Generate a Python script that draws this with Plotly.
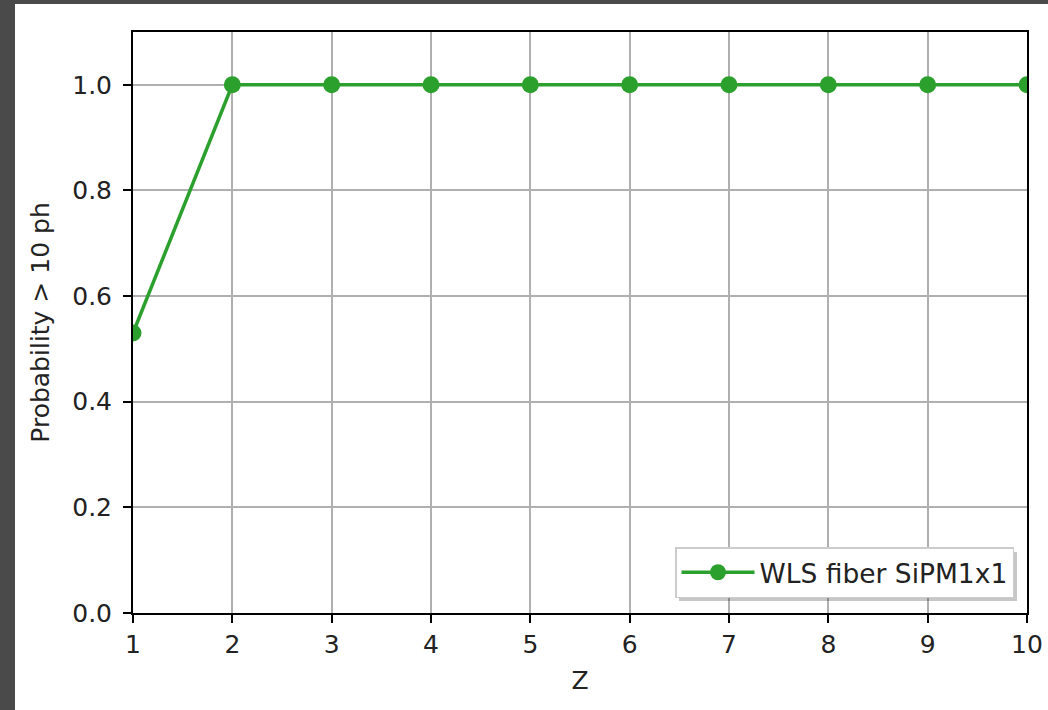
import plotly.graph_objects as go

z_values = [1, 2, 3, 4, 5, 6, 7, 8, 9, 10]
probability = [0.53, 1.0, 1.0, 1.0, 1.0, 1.0, 1.0, 1.0, 1.0, 1.0]
series_name = "WLS fiber SiPM1x1"
x_label = "Z"
y_label = "Probability > 10 ph"
y_ticks = [0.0, 0.2, 0.4, 0.6, 0.8, 1.0]

GREEN = "#2ca02c"
FONT = "DejaVu Sans"
FS = 25
TXT = "#222222"

W, H = 1048, 710
L, R, T, B = 133, 1027, 32, 613
pw, ph = R - L, B - T

def px(x):
    return (x - L) / pw

def py(y):
    return (B - y) / ph

fig = go.Figure()
fig.add_trace(go.Scatter(
    x=z_values, y=probability, mode="lines+markers", name=series_name,
    line=dict(color=GREEN, width=3.5),
    marker=dict(color=GREEN, size=17, symbol="circle"),
))

axis_common = dict(
    showline=True, linecolor="#000000", linewidth=2, mirror=True,
    showgrid=True, gridcolor="#b0b0b0", gridwidth=2,
    ticks="outside", ticklen=8, tickwidth=2, tickcolor="#000000",
    tickfont=dict(family=FONT, size=FS, color=TXT),
    zeroline=False, automargin=False,
)

fig.update_layout(
    width=W, height=H,
    margin=dict(l=L, r=W - R, t=T, b=H - B, pad=0),
    paper_bgcolor="#4a4a4a",
    plot_bgcolor="#ffffff",
    font=dict(family=FONT, size=FS, color=TXT),
    xaxis=dict(range=[1, 10], tickmode="array", tickvals=z_values,
               ticktext=[str(v) for v in z_values],
               title=dict(text=x_label, font=dict(family=FONT, size=FS, color=TXT), standoff=13),
               **axis_common),
    yaxis=dict(range=[0, 1.1], tickmode="array", tickvals=y_ticks,
               ticktext=[f"{v:.1f}" for v in y_ticks],
               ticklabelstandoff=6,
               title=dict(text=y_label, font=dict(family=FONT, size=FS, color=TXT), standoff=15),
               **axis_common),
    showlegend=True,
    legend=dict(x=px(1014), y=py(598), xanchor="right", yanchor="bottom",
                bgcolor="#ffffff", bordercolor="#cccccc", borderwidth=1.5,
                itemwidth=73,
                font=dict(family=FONT, size=26.5, color=TXT)),
    shapes=[
        dict(type="rect", xref="paper", yref="paper", layer="below",
             x0=px(15), x1=px(W + 5), y0=py(H + 5), y1=py(4),
             fillcolor="#ffffff", line=dict(width=0)),
        dict(type="rect", xref="paper", yref="paper", layer="above",
             x0=px(679), x1=px(1017), y0=py(601), y1=py(552),
             fillcolor="rgba(0,0,0,0.22)", line=dict(width=0)),
    ],
)

fig.write_html("out.html")
